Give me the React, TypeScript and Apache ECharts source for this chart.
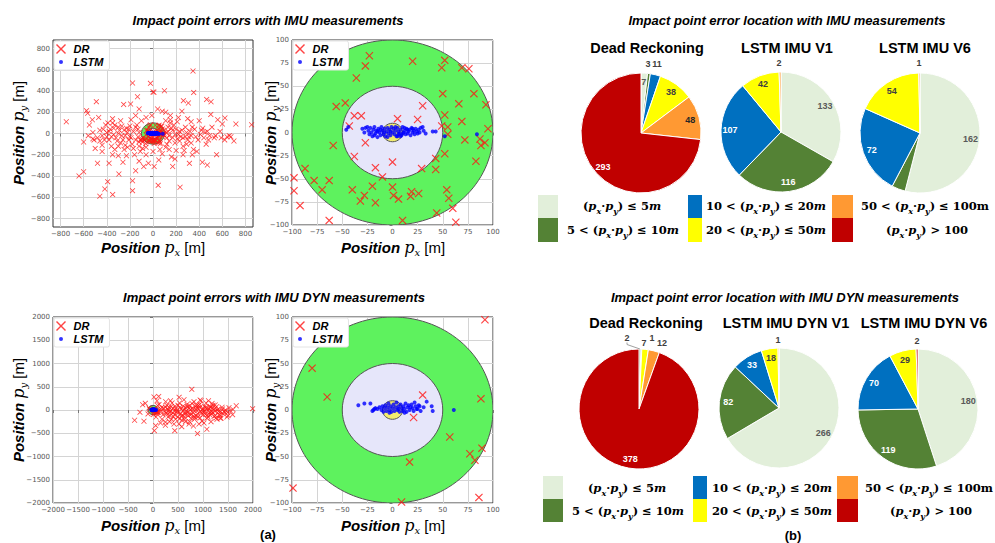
import React, { useEffect, useRef } from "react";
import * as echarts from "echarts";

// ---------- DATA ----------
// Dead-reckoning impact points, IMU measurements [px, py] (m)
const DR_IMU: number[][] = [
  [-750,110],[-640,-400],[-600,-360],[-575,215],[-565,190],[-550,80],[-520,-50],[-525,130],[-500,-140],[-490,300],
  [-480,-280],[-470,150],[-460,-590],[-440,-170],[-417,-522],[-392,-453],[-380,-280],[-350,140],[-350,-200],[-349,-575],
  [-300,-210],[-295,-381],[-254,274],[-194,277],[-260,-270],[-177,475],[-177,-444],[-177,-538],[-134,346],[-150,-350],
  [-22,472],[0,390],[8,388],[99,403],[-80,-310],[45,-488],[10,-310],[234,-506],[170,-310],[346,588],
  [352,387],[263,309],[306,287],[315,-281],[350,-150],[340,-200],[464,321],[502,299],[470,-296],[427,-271],
  [550,-199],[500,180],[560,130],[622,146],[600,90],[674,-30],[717,89],[853,83],[640,-30],[700,-70],
  [590,-40],[430,50],[400,120],[380,-170],[510,60],[530,-40],[460,-100],[250,210],[220,150],[-120,230],
  [-150,170],[40,230],[80,210],[110,200],[-100,120],[-200,70],[-230,50],[-300,0],[-330,80],[-400,10],
  [-420,-60],[-440,-110],[-360,-120],[-280,-90],[-250,-150],[-160,-200],[-120,-260],[-60,-200],[0,-170],[60,-150],
  [120,-100],[160,-220],[200,-160],[260,-120],[300,-60],[330,-20],[360,40],[280,60],[200,40],[150,100],
  [-150,-60],[-200,-30],[-250,30],[-320,-40],[-370,40],[-440,-20],[-480,-40],[-510,-60],[130,20],[170,-40],
  [220,-10],[250,30],[-130,40],[-180,-100],[-220,10],[-260,-60],[-300,60],[-340,-10],[110,120],[180,80],
  [230,-70],[290,-100],[320,20],[370,-30],[410,-10],[450,10],[480,-60],[-60,150],[-10,170],[140,-150],
  [190,-240],[-90,-140],[-170,-140],[-230,-210],[260,-200],[50,-250],[-40,-280],[300,140],[150,170],[-280,120],
  [-380,-60],[-410,80],[-460,30],[540,-20],[580,20],[620,-60],[660,-20],[-560,-20],[-600,-80],[-520,10],
  [-270,-20],[-210,-60],[-140,80],[120,-40],[170,30],[210,110],[240,-30],[280,-30],[330,-90],[-330,-150],
  [-390,100],[-60,-130],[80,-190],[-120,-120],[-190,130],[-240,-110],[140,-70],[190,-90],[-110,-170],[130,60],
  [-380,20],[-360,-30],[-340,50],[-310,-70],[-290,30],[-270,70],[-240,-20],[-210,40],[-190,-40],[-170,20],
  [-150,60],[-130,-30],[-120,10],[-110,-60],[120,10],[140,-20],[160,50],[190,-10],[210,-50],[230,20],
  [260,-40],[290,10],[310,-30],[340,60],[390,-60],[420,30],[440,-40],[470,20],[490,-20],[-400,-30],
  [-430,40],[-460,-70],[-350,100],[-220,-130],[-120,-80],[110,-130],[150,130],[270,-160],[330,110],[-300,-120],
  // within +-100 m
  [-23,83],[-27,72],[-36,59],[20,77],[52,78],[49,70],[69,70],[76,69],[50,42],[81,42],
  [66,31],[93,30],[-47,32],[-56,28],[30,29],[-38,18],[-31,18],[5,15],[25,14],[52,19],
  [69,12],[-43,7],[55,6],[49,7],[95,4],[55,-2],[72,-8],[87,-7],[88,-14],[92,-11],
  [-59,-14],[-27,-11],[-38,-26],[52,-23],[43,-28],[83,-31],[0,-32],[29,-39],[-17,-38],[43,-40],
  [-10,-48],[-87,-39],[-78,-52],[-63,-52],[-98,-49],[-98,-63],[-70,-62],[-40,-62],[-28,-68],[-20,-58],
  [-32,-74],[-17,-76],[0,-59],[1,-68],[6,-72],[19,-64],[18,-69],[26,-66],[54,-62],[56,-71],
  [60,-82],[44,-87],[-92,-79],[-63,-95],[10,-95],[63,-97]
];
// LSTM impact points, IMU measurements
const LSTM_IMU: number[][] = [
  [-46,3],[-44,6],[-25,6],[-24,2],[-23,-2],[-22,5],[-21,0],[-20,-4],[-19,3],[-18,6],[-17,-1],[-16,2],[-15,-5],
  [-14,4],[-13,0],[-12,-3],[-11,6],[-10,2],[-9,-2],[-8,4],[-7,-4],[-6,1],[-5,5],[-4,-1],[-3,3],[-2,-3],[-1,6],
  [0,0],[1,4],[2,-2],[3,2],[4,-4],[5,5],[6,1],[7,-1],[8,3],[9,-3],[10,6],[11,0],[12,2],[13,-2],[14,4],[15,-1],
  [16,1],[17,3],[18,-3],[19,5],[20,0],[21,2],[22,-2],[23,4],[24,1],[25,-1],[26,3],[27,0],[28,5],[30,6],[31,2],
  [33,-1],[-30,4],[-28,0],[40,1],[43,1],[52,-4],[84,-2],[-27,5],[-5,-5],[5,-4],[12,5],[-18,-3],[3,6],[-8,0],
  [20,4],[-12,3],[8,-4],[15,3],[-2,1],[6,-2],[10,-1],[-15,1]
];
// Dead-reckoning impact points, IMU DYN measurements
const DR_DYN: number[][] = [
  [-368,-222],[-181,-243],[-207,114],[-261,-50],[-154,143],[20,279],[114,293],[27,-444],[54,-336],[776,444],
  [522,272],[254,179],[435,-444],[248,-329],[575,-358],[890,-508],[1077,-415],[809,-343],[943,215],[1110,200],
  [1244,107],[1665,93],[1993,29],[1592,-100],[1492,-50],[1345,-179],[1284,0],[1144,72],
  [110,-50],[150,20],[200,-100],[250,60],[300,-150],[350,-30],[400,40],[450,-200],[500,100],[550,-80],
  [600,-20],[650,50],[700,-120],[750,10],[800,-60],[850,80],[900,-150],[950,-30],[1000,30],[1050,-90],
  [1100,-10],[1150,60],[1200,-60],[1250,-120],[1300,10],[1350,-40],[1400,-80],[1450,0],[1500,-120],[120,120],
  [180,-200],[230,-20],[280,100],[330,-250],[380,150],[430,-100],[480,-10],[530,150],[580,-220],[630,-150],
  [680,120],[730,-250],[780,140],[830,-200],[880,-20],[930,120],[980,-240],[1030,80],[1080,-180],[1130,-60],
  [1180,140],[1230,20],[1280,-200],[1330,-100],[1380,60],[60,-150],[80,200],[320,60],[420,-300],[520,-300],
  [620,220],[720,-300],[820,180],[920,-300],[1020,-280],[700,-50],[600,80],[500,-150],[400,-60],[300,20],
  [800,0],[900,40],[1000,-100],[1100,-150],[1200,100],[650,-250],[760,-180],[860,-120],[960,200],[1060,150],
  [1160,-250],[1260,-170],[1360,-180],[1420,-30],[1550,-20],[1600,10],[250,-260],[150,-280],[350,200],[180,60],
  [260,-60],[340,-120],[440,80],[560,20],[640,-90],[720,40],[840,-160],[940,60],[1040,-20],[1140,-110],
  [1240,-20],[470,-40],[570,-130],[670,-20],[770,-90],[870,100],[970,-60],[1070,30],[1170,-30],[370,-200],
  [160,-30],[210,40],[270,-80],[310,-10],[360,70],[410,-140],[460,30],[510,-60],[540,60],[590,-110],
  [620,10],[660,-60],[690,70],[740,-100],[790,40],[820,-140],[860,20],[890,-80],[910,90],[940,-170],
  [990,0],[1010,-50],[1060,60],[1090,-110],[1120,30],[1170,-70],[1190,40],[1220,-140],[1270,70],[1310,-30],
  [1340,-120],[1390,20],[1440,-60],[1480,-150],[1520,50],[730,90],[630,-200],[530,-190],[430,-20],[330,-60],
  // within +-100 m
  [92,97],[-80,45],[-65,14],[30,16],[21,-8],[88,12],[57,-29],[89,-41],[77,-47],[82,-54],
  [17,-56],[86,-94],[-99,-84],[9,-99]
];
// LSTM impact points, IMU DYN measurements
const LSTM_DYN: number[][] = [
  [-34,5],[-28,7],[-22,7],[-19,0],[-17,2],[-15,1],[-13,3],[-11,0],[-10,4],[-9,-2],[-8,2],[-7,5],[-6,-1],
  [-5,3],[-4,7],[-3,0],[-2,4],[-1,-2],[0,2],[1,6],[2,-1],[3,3],[4,8],[5,0],[6,4],[7,-2],[8,6],[9,2],[10,-1],
  [11,4],[12,1],[13,7],[14,-2],[15,3],[16,5],[17,0],[18,3],[19,6],[20,2],[21,-1],[22,8],[23,4],[24,1],
  [25,1],[26,5],[27,4],[28,-1],[31,3],[34,9],[39,4],[40,-1],[61,0],[-20,-1],[-18,1],[-3,-3],[6,1],[12,-3]
];
// circular error zones [cx, cy, radius]
const ZONES: number[][] = [[0,0,100],[0,0,50],[0,0,10]];

const TICKS_800 = [-800,-600,-400,-200,0,200,400,600,800];

// pie charts: categories in clockwise order from 12 o'clock
const CAT_KEYS = ["le5","5to10","10to20","20to50","50to100","gt100"];
const PIE_TOP_TITLES = ["Dead Reckoning","LSTM IMU V1","LSTM IMU V6"];
const PIE_TOP_VALUES = [[7,3,11,38,48,293],[133,116,107,42,2,0],[162,11,72,54,1,0]];
const PIE_BOT_TITLES = ["Dead Reckoning","LSTM IMU DYN V1","LSTM IMU DYN V6"];
const PIE_BOT_VALUES = [[0,2,1,7,12,378],[266,82,33,18,1,0],[180,119,70,29,0,2]];
// legend texts: [prefix, suffix, italic unit]
const CAT_TEXT = [
  ["(", ") \u2264 5", "m"],
  ["5 < (", ") \u2264 10", "m"],
  ["10 < (", ") \u2264 20", "m"],
  ["20 < (", ") \u2264 50", "m"],
  ["50 < (", ") \u2264 100m", ""],
  ["(", ") > 100", ""]
];

// ---------- STYLE ----------
const CAT_COLORS = ["#E2EFDA","#548235","#0070C0","#FFFF00","#FF9933","#C00000"];
const CAT_LABEL_COLORS = ["#595959","#ffffff","#ffffff","#404040","#262626","#ffffff"];
const ZONE_COLORS = ["#5EF25E","#E6E6FA","#F2EC6E"];
const XMARK = "path://M1,0L5,4L9,0L10,1L6,5L10,9L9,10L5,6L1,10L0,9L4,5L0,1Z";
const DOT = "path://M0,0M20,20M10,6A4,4,0,1,1,10,14A4,4,0,1,1,10,6Z";
const SANS = "Liberation Sans, Arial, sans-serif";
const SERIF = "DejaVu Serif, serif";

const fmt = (v: number) => String(v).replace("-", "\u2212");

function valAxis(gridIndex: number, min: number, max: number, interval?: number, custom?: number[]) {
  const a: any = {
    type: "value", gridIndex, min, max,
    axisLine: { show: false },
    axisTick: { show: true, length: 3, lineStyle: { color: "#777" } },
    axisLabel: { fontSize: 7, color: "#555", margin: 3, formatter: fmt, fontFamily: "DejaVu Sans" },
    splitLine: { show: true, lineStyle: { color: "#d4d4d4", width: 1 } }
  };
  if (interval) a.interval = interval;
  if (custom) {
    a.axisTick.customValues = custom;
    a.axisLabel.customValues = custom;
  }
  return a;
}

function zoneSeries(idx: number) {
  return {
    type: "custom", xAxisIndex: idx, yAxisIndex: idx, clip: true, silent: true, z: 1,
    data: ZONES,
    renderItem: (params: any, api: any) => {
      const c = api.coord([api.value(0), api.value(1)]);
      const s = api.size([api.value(2), api.value(2)]);
      return {
        type: "ellipse",
        shape: { cx: c[0], cy: c[1], rx: s[0], ry: s[1] },
        style: { fill: ZONE_COLORS[params.dataIndex], stroke: "#555", lineWidth: 1 }
      };
    }
  };
}

function scatterPair(idx: number, dr: number[][], lstm: number[][], drSize: number) {
  return [
    { type: "scatter", name: "DR", xAxisIndex: idx, yAxisIndex: idx, data: dr, symbol: XMARK,
      symbolSize: drSize, itemStyle: { color: "#ff1414" }, z: 3, silent: true },
    { type: "scatter", name: "LSTM", xAxisIndex: idx, yAxisIndex: idx, data: lstm, symbol: "circle",
      symbolSize: 4, itemStyle: { color: "#0000ff" }, z: 4, silent: true }
  ];
}

function legendAt(left: number, top: number) {
  return {
    left, top, orient: "vertical", selectedMode: false,
    backgroundColor: "#fff", borderColor: "#e4e4e4", borderWidth: 1, borderRadius: 2,
    padding: [2, 6, 2, 2], itemGap: 1, itemWidth: 13, itemHeight: 10,
    textStyle: { fontSize: 11, fontWeight: "bold", fontStyle: "italic", color: "#000", fontFamily: SANS, lineHeight: 12, padding: [0, 0, 0, 1] },
    data: [
      { name: "DR", icon: XMARK, itemStyle: { color: "#ff1414" } },
      { name: "LSTM", icon: DOT, itemStyle: { color: "#0000ff" } }
    ]
  };
}

// outsidePos: category index -> [x, y] label position; hidden: category indexes without label
function pieSeries(values: number[], center: number[], outsidePos: Record<number, number[]>, hidden: number[] = [], lineIdx: number[] = []) {
  const base: any[] = [];
  const lab: any[] = [];
  const catOf: number[] = [];
  values.forEach((v, i) => {
    if (v <= 0) return;
    base.push({ value: v, name: CAT_KEYS[i], itemStyle: { color: CAT_COLORS[i] } });
    const out = !!outsidePos[i];
    catOf.push(i);
    lab.push({
      value: v, name: CAT_KEYS[i],
      label: {
        show: !hidden.includes(i), position: out ? "outside" : "inside",
        color: out ? "#404040" : CAT_LABEL_COLORS[i]
      },
      labelLine: { show: lineIdx.includes(i), length: 4, length2: 2, lineStyle: { color: "#a0a0a0", width: 1 } }
    });
  });
  return [
    { type: "pie", center, radius: [0, 60], startAngle: 90, clockwise: true, silent: true,
      label: { show: false }, labelLine: { show: false }, emphasis: { disabled: true },
      itemStyle: { borderColor: "#fff", borderWidth: 1 }, data: base, z: 2 },
    { type: "pie", center, radius: [36, 60], startAngle: 90, clockwise: true, silent: true,
      avoidLabelOverlap: false, emphasis: { disabled: true },
      itemStyle: { color: "rgba(0,0,0,0)", borderWidth: 0 },
      label: { fontSize: 9, fontWeight: "bold", fontFamily: SANS, formatter: "{c}" },
      labelLayout: (p: any) => {
        const pos = outsidePos[catOf[p.dataIndex]];
        if (pos) return { x: pos[0], y: pos[1], align: "center", verticalAlign: "middle" };
        return {};
      },
      data: lab, z: 3 }
  ];
}

function txt(x: number, y: number, text: string, font: any, extra: any = {}) {
  return {
    type: "text", x, y, ...extra,
    style: {
      text, fill: "#000", align: "center", verticalAlign: "middle",
      textAlign: "center", textVerticalAlign: "middle", ...font
    }
  };
}

const TITLE_FONT = { fontFamily: SANS, fontSize: 13, fontWeight: "bold", fontStyle: "italic" };
const PIE_TITLE_FONT = { fontFamily: SANS, fontSize: 14.5, fontWeight: "bold" };

const AXIS_RICH = {
  b: { fontFamily: SANS, fontWeight: "bold", fontStyle: "italic", fontSize: 15, lineHeight: 20, fill: "#000" },
  m: { fontFamily: SERIF, fontStyle: "italic", fontSize: 16, lineHeight: 20, fill: "#000" },
  s: { fontFamily: SERIF, fontStyle: "italic", fontSize: 10, lineHeight: 12, verticalAlign: "bottom", fill: "#000" },
  r: { fontFamily: SANS, fontSize: 15, lineHeight: 20, fill: "#000" }
};
const axisTitle = (sub: string) => `{b|Position }{m|p}{s|${sub}}{r| [m]}`;

const MATH_RICH = {
  n: { fontFamily: SERIF, fontWeight: "bold", fontSize: 11.5, lineHeight: 18, fill: "#000" },
  i: { fontFamily: SERIF, fontWeight: "bold", fontStyle: "italic", fontSize: 11.5, lineHeight: 18, fill: "#000" },
  s: { fontFamily: SERIF, fontWeight: "bold", fontStyle: "italic", fontSize: 8, lineHeight: 11, verticalAlign: "bottom", fill: "#000" }
};
const catText = (k: number) => {
  const [pre, post, unit] = CAT_TEXT[k];
  return `{n|${pre}}{i|p}{s|x}{n|\u00b7}{i|p}{s|y}{n|${post}}` + (unit ? `{i|${unit}}` : "");
};

function pieLegend(x0: number[], widths: number[], textX: number[][], rows: number[][], rowY: number[]) {
  const els: any[] = [];
  for (let c = 0; c < 3; c++) {
    for (let r = 0; r < 2; r++) {
      const k = c * 2 + r;
      els.push({ type: "rect", shape: { x: x0[c], y: rows[r][0], width: widths[c], height: rows[r][1] - rows[r][0] },
        style: { fill: CAT_COLORS[k] } });
      els.push({ type: "text", x: textX[c][r], y: rowY[r],
        style: { text: catText(k), rich: MATH_RICH, align: "center", verticalAlign: "middle", textAlign: "center", textVerticalAlign: "middle" } });
    }
  }
  return els;
}

export default function App() {
  const ref = useRef<HTMLDivElement>(null);
  useEffect(() => {
    if (!ref.current) return;
    const chart = echarts.init(ref.current, undefined, { renderer: "svg" });
    const grids = [
      { left: 53, top: 40, width: 200, height: 187 },
      { left: 292, top: 40, width: 201, height: 185 },
      { left: 53, top: 317, width: 200, height: 186 },
      { left: 292, top: 317, width: 201, height: 186 }
    ].map(g => ({ ...g, show: true, borderColor: "#333", borderWidth: 1, backgroundColor: "#fff" }));

    const option: any = {
      animation: false,
      backgroundColor: "#fff",
      grid: grids,
      xAxis: [
        valAxis(0, -865, 865, undefined, TICKS_800),
        valAxis(1, -100, 100, 25),
        valAxis(2, -2000, 2000, 500),
        valAxis(3, -100, 100, 25)
      ],
      yAxis: [
        valAxis(0, -880, 880, undefined, TICKS_800),
        valAxis(1, -100, 100, 25),
        valAxis(2, -2000, 2000, 500),
        valAxis(3, -100, 100, 25)
      ],
      legend: [legendAt(54, 41), legendAt(293, 41), legendAt(54, 318), legendAt(293, 318)],
      series: [
        zoneSeries(0), ...scatterPair(0, DR_IMU, LSTM_IMU, 5.5),
        zoneSeries(1), ...scatterPair(1, DR_IMU, LSTM_IMU, 8),
        zoneSeries(2), ...scatterPair(2, DR_DYN, LSTM_DYN, 5.5),
        zoneSeries(3), ...scatterPair(3, DR_DYN, LSTM_DYN, 8),
        ...pieSeries(PIE_TOP_VALUES[0], [641, 133], { 1: [648, 64], 2: [657, 64] }),
        ...pieSeries(PIE_TOP_VALUES[1], [781, 132], { 4: [779, 63] }),
        ...pieSeries(PIE_TOP_VALUES[2], [920, 133], { 4: [919, 63] }, [1]),
        ...pieSeries(PIE_BOT_VALUES[0], [639, 409], { 1: [627, 338], 2: [652, 338], 3: [644, 343], 4: [662, 343] }, [], [1]),
        ...pieSeries(PIE_BOT_VALUES[1], [779, 408], { 4: [778, 340] }),
        ...pieSeries(PIE_BOT_VALUES[2], [918, 409], { 5: [917, 341] })
      ],
      graphic: [
        txt(268, 20, "Impact point errors with IMU measurements", TITLE_FONT),
        txt(787, 20, "Impact point error location with IMU measurements", TITLE_FONT),
        txt(274, 297, "Impact point errors with IMU DYN measurements", TITLE_FONT),
        txt(785, 297, "Impact point error location with IMU DYN measurements", TITLE_FONT),
        txt(647, 48, PIE_TOP_TITLES[0], PIE_TITLE_FONT),
        txt(787, 48, PIE_TOP_TITLES[1], PIE_TITLE_FONT),
        txt(925, 48, PIE_TOP_TITLES[2], PIE_TITLE_FONT),
        txt(646, 323, PIE_BOT_TITLES[0], PIE_TITLE_FONT),
        txt(786, 323, PIE_BOT_TITLES[1], PIE_TITLE_FONT),
        txt(924, 323, PIE_BOT_TITLES[2], PIE_TITLE_FONT),
        txt(153, 247, axisTitle("x"), { rich: AXIS_RICH }),
        txt(393, 247, axisTitle("x"), { rich: AXIS_RICH }),
        txt(153, 525, axisTitle("x"), { rich: AXIS_RICH }),
        txt(393, 525, axisTitle("x"), { rich: AXIS_RICH }),
        txt(18, 133, axisTitle("y"), { rich: AXIS_RICH }, { rotation: Math.PI / 2 }),
        txt(270, 133, axisTitle("y"), { rich: AXIS_RICH }, { rotation: Math.PI / 2 }),
        txt(18, 410, axisTitle("y"), { rich: AXIS_RICH }, { rotation: Math.PI / 2 }),
        txt(270, 410, axisTitle("y"), { rich: AXIS_RICH }, { rotation: Math.PI / 2 }),
        txt(268, 534, "(a)", { fontFamily: SANS, fontSize: 13, fontWeight: "bold" }),
        txt(793, 535, "(b)", { fontFamily: SANS, fontSize: 13, fontWeight: "bold" }),
        ...pieLegend([538, 688, 832], [20, 14, 21], [[622, 623], [766, 766], [925, 927]], [[195, 218], [218, 242]], [206, 230]),
        ...pieLegend([543, 693, 837], [20, 14, 21], [[627, 628], [772, 772], [929, 931]], [[476, 499], [499, 522]], [488, 511])
      ]
    };
    chart.setOption(option);
    return () => chart.dispose();
  }, []);
  return <div ref={ref} style={{ position: "fixed", left: 0, top: 0, width: 995, height: 543 }} />;
}
